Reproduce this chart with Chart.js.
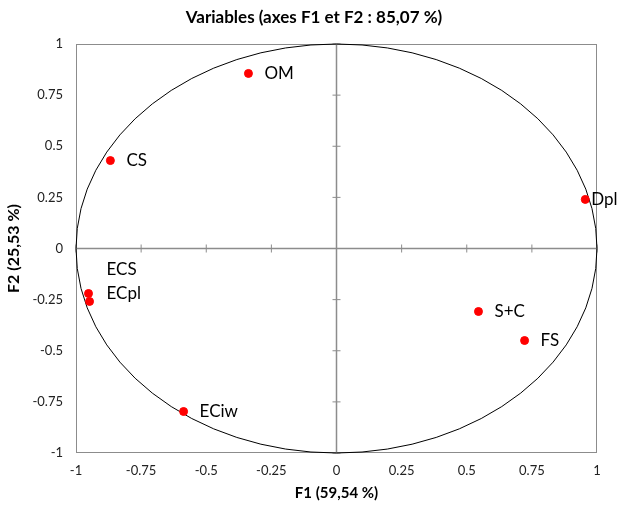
<!DOCTYPE html>
<html>
<head>
<meta charset="utf-8">
<script src="https://cdn.jsdelivr.net/npm/chart.js@4"></script>
<style>
  body { margin: 0; background: #fff; }
  canvas { display: block; }
</style>
</head>
<body>
<canvas id="chart" width="620" height="506"></canvas>
<script>
const varNames = ["OM", "CS", "Dpl", "ECS", "ECpl", "S+C", "FS", "ECiw"];
const f1Values = [-0.338, -0.868, 0.955, -0.952, -0.948, 0.545, 0.722, -0.587];
const f2Values = [0.856, 0.430, 0.240, -0.220, -0.259, -0.308, -0.450, -0.797];
const tickValues = [-1, -0.75, -0.5, -0.25, 0, 0.25, 0.5, 0.75, 1];

const FONT = "Lato, 'Liberation Sans', sans-serif";
const AXIS_GRAY = "#8c8c8c";

// circle, plot frame, centre axes, point labels
const decorPlugin = {
  id: "decor",
  beforeDatasetsDraw(chart) {
    const { ctx, chartArea: a, scales: { x, y } } = chart;
    ctx.save();
    ctx.strokeStyle = AXIS_GRAY;
    ctx.lineWidth = 1;
    ctx.strokeRect(a.left + 0.5, a.top + 0.5, a.right - a.left - 1, a.bottom - a.top - 1);

    const cx = x.getPixelForValue(0), cy = y.getPixelForValue(0);
    ctx.lineWidth = 1.5;
    ctx.beginPath();
    ctx.moveTo(a.left, cy); ctx.lineTo(a.right, cy);
    ctx.moveTo(cx, a.top); ctx.lineTo(cx, a.bottom);
    ctx.stroke();
    ctx.lineWidth = 1;
    ctx.beginPath();
    tickValues.forEach(v => {
      const px = x.getPixelForValue(v), py = y.getPixelForValue(v);
      ctx.moveTo(px, cy - 4); ctx.lineTo(px, cy + 4);
      ctx.moveTo(cx - 4, py); ctx.lineTo(cx + 4, py);
    });
    ctx.stroke();

    // unit circle
    ctx.strokeStyle = "#000";
    ctx.lineWidth = 1;
    ctx.beginPath();
    ctx.ellipse(cx, cy, x.getPixelForValue(1) - cx, cy - y.getPixelForValue(1), 0, 0, Math.PI * 2);
    ctx.stroke();
    ctx.restore();
  },
  afterDatasetsDraw(chart) {
    const { ctx, scales: { x, y } } = chart;
    ctx.save();
    ctx.font = "17px " + FONT;
    ctx.fillStyle = "#000";
    ctx.textBaseline = "middle";
    varNames.forEach((name, i) => {
      let px = x.getPixelForValue(f1Values[i]) + 16;
      let py = y.getPixelForValue(f2Values[i]);
      if (name === "Dpl") px -= 10;
      if (name === "ECS") { px = x.getPixelForValue(f1Values[i]) + 18; py -= 24; }
      if (name === "ECpl") { px = x.getPixelForValue(f1Values[i]) + 17; py -= 8; }
      ctx.fillText(name, px, py);
    });
    ctx.restore();
  }
};

new Chart(document.getElementById("chart"), {
  type: "scatter",
  data: {
    datasets: [{
      data: f1Values.map((v, i) => ({ x: v, y: f2Values[i] })),
      backgroundColor: "#ff0000",
      borderColor: "#ff0000",
      pointRadius: 4,
      pointHoverRadius: 4
    }]
  },
  options: {
    responsive: false,
    animation: false,
    layout: { padding: { top: 44, right: 23 } },
    plugins: {
      legend: { display: false },
      tooltip: { enabled: false },
      title: { display: false }
    },
    scales: {
      x: {
        min: -1, max: 1,
        afterBuildTicks: s => { s.ticks = tickValues.map(v => ({ value: v })); },
        afterFit: s => { s.height = 53; },
        grid: { display: false, drawTicks: false },
        border: { display: false },
        ticks: { padding: 10, color: "#222", font: { family: FONT, size: 13 }, callback: v => String(v) },
        title: { display: true, text: "F1 (59,54 %)", color: "#000", padding: { top: 4, bottom: 4 },
          font: { family: FONT, size: 15, weight: "bold" } }
      },
      y: {
        min: -1, max: 1,
        afterBuildTicks: s => { s.ticks = tickValues.map(v => ({ value: v })); },
        afterFit: s => { s.width = 76; },
        grid: { display: false, drawTicks: false },
        border: { display: false },
        ticks: { padding: 13, color: "#222", font: { family: FONT, size: 13 }, callback: v => String(v) },
        title: { display: true, text: "F2 (25,53 %)", color: "#000", padding: { top: 4, bottom: 4 },
          font: { family: FONT, size: 16, weight: "bold" } }
      }
    }
  },
  plugins: [decorPlugin, {
    id: "mainTitle",
    afterDraw(chart) {
      const ctx = chart.ctx;
      ctx.save();
      ctx.font = "bold 17px " + FONT;
      ctx.fillStyle = "#000";
      ctx.textAlign = "center";
      ctx.textBaseline = "middle";
      ctx.fillText("Variables (axes F1 et F2 : 85,07 %)", 314, 18);
      ctx.restore();
    }
  }]
});
</script>
</body>
</html>
